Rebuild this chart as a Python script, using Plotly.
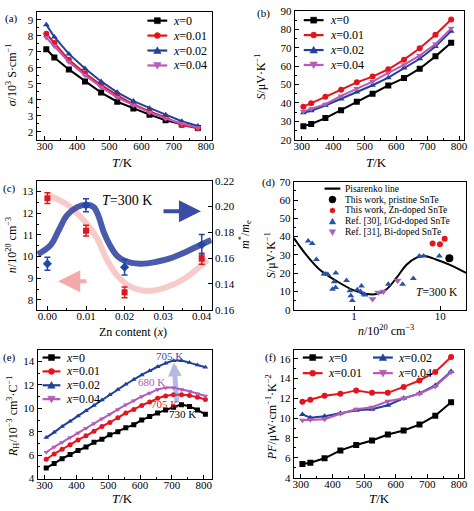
import plotly.graph_objects as go

W, H = 474, 511
FONT = "Liberation Serif"

BLACK = "#000000"
RED = "#e5141c"
BLUE = "#20409a"
PURPLE = "#b55bb8"

# ---------------- data ----------------
# (a) electrical conductivity, (b) Seebeck, (f) power factor
T_ab = [305, 330, 375, 425, 475, 525, 575, 625, 675, 725, 775]
sigma_x000 = [7.16, 6.65, 5.90, 5.15, 4.45, 3.88, 3.45, 3.07, 2.72, 2.46, 2.24]
sigma_x001 = [8.13, 7.56, 6.50, 5.66, 4.93, 4.28, 3.72, 3.27, 2.90, 2.42, 2.22]
sigma_x002 = [8.70, 7.93, 6.87, 5.96, 5.15, 4.47, 3.92, 3.47, 3.07, 2.66, 2.36]
sigma_x004 = [7.89, 7.36, 6.37, 5.54, 4.79, 4.14, 3.66, 3.21, 2.83, 2.52, 2.26]

S_x000 = [27.4, 28.6, 31.8, 36.0, 40.6, 45.0, 49.5, 53.5, 58.6, 65.3, 72.7]
S_x001 = [38.0, 39.8, 43.3, 47.2, 51.2, 54.3, 58.3, 63.5, 69.7, 77.0, 85.3]
S_x002 = [34.7, 35.8, 38.6, 42.2, 46.0, 49.6, 53.7, 59.0, 64.0, 70.6, 79.0]
S_x004 = [35.4, 36.8, 39.3, 43.8, 47.8, 51.6, 56.3, 60.7, 65.8, 72.0, 80.5]

PF_x000 = [5.37, 5.50, 5.95, 6.75, 7.30, 7.75, 8.35, 8.75, 9.35, 10.25, 11.60]
PF_x001 = [11.65, 11.85, 12.25, 12.45, 12.80, 12.55, 12.55, 13.15, 13.80, 14.65, 16.16]
PF_x002 = [10.38, 10.05, 10.20, 10.50, 10.80, 10.90, 11.30, 12.00, 12.50, 13.30, 14.70]
PF_x004 = [9.79, 9.85, 9.90, 10.45, 10.90, 11.10, 11.70, 12.00, 12.45, 13.20, 14.63]

# (c) carrier concentration and effective mass vs Zn content
zn_x = [0.00, 0.01, 0.02, 0.04]
n_c = [12.7, 11.2, 8.35, 9.9]
n_err = [0.25, 0.25, 0.25, 0.25]
m_c = [0.1557, 0.201, 0.153, 0.1704]
m_err = [0.005, 0.005, 0.006, 0.008]
n_fit_x = [0.0, 0.0051, 0.0093, 0.0127, 0.0153, 0.0179, 0.0213, 0.0255, 0.0306, 0.0357, 0.0400, 0.0415]
n_fit_y = [12.85, 12.4, 11.7, 10.9, 9.9, 9.17, 8.64, 8.42, 8.57, 9.0, 9.62, 9.85]
m_fit_x = [-0.0025, 0.0008, 0.0030, 0.0050, 0.0077, 0.0102, 0.0120, 0.0132, 0.0145, 0.0162,
           0.0180, 0.0200, 0.0240, 0.0280, 0.0320, 0.0360, 0.0395, 0.0425]
m_fit_y = [0.163, 0.170, 0.182, 0.193, 0.1996, 0.2014, 0.1996, 0.193, 0.181, 0.170,
           0.162, 0.158, 0.1557, 0.157, 0.160, 0.165, 0.170, 0.174]
m_ticks = [0.12, 0.14, 0.16, 0.18, 0.20, 0.22]
m_ticktext = ["0.16", "0.14", "0.16", "0.18", "0.20", "0.22"]

# (d) Pisarenko plot
n_pis = [0.2, 0.28, 0.4, 0.626, 0.98, 1.4, 1.83, 2.39, 3.12, 4.07, 5.33, 6.66, 9.1, 14.2, 20.0]
S_pis = [39.2, 29.9, 21.9, 15.7, 10.7, 8.55, 8.55, 11.2, 17.5, 24.6, 28.5, 29.4, 27.3, 23.7, 20.1]
n_pristine = [12.8]
S_pristine = [28.1]
n_zn = [8.18, 9.95, 11.3]
S_zn = [36.2, 35.8, 38.8]
n_ref30 = [0.293, 0.327, 0.366, 0.446, 0.47, 0.496, 0.614, 0.588, 0.562, 0.61, 0.818, 0.893, 0.918,
           0.953, 1.09, 1.22, 1.19, 1.30, 1.34, 2.5, 3.66, 4.88, 5.73, 6.43, 9.78]
S_ref30 = [37.6, 36.2, 27.4, 19.6, 19.6, 19.2, 20.1, 15.3, 11.2, 12.1, 16.0, 10.3, 7.6,
           5.0, 10.9, 13.0, 10.0, 8.6, 8.0, 13.9, 13.9, 17.1, 29.4, 29.4, 29.4]
n_ref31 = [1.64, 1.91, 2.19, 3.2]
S_ref31 = [5.9, 9.4, 10.0, 16.0]

# (e) Hall coefficient
T_e = [305, 330, 355, 380, 405, 430, 455, 480, 505, 530, 555, 580, 605, 630, 655, 680, 705, 730, 755, 780, 805]
RH_x000 = [4.9, 5.3, 5.7, 6.05, 6.4, 6.7, 7.1, 7.35, 7.75, 8.0, 8.35, 8.6, 9.0, 9.3, 9.6, 9.85, 10.1, 10.3, 10.15, 9.85, 9.5]
RH_x001 = [5.65, 6.1, 6.5, 6.9, 7.3, 7.65, 8.05, 8.45, 8.8, 9.2, 9.6, 9.9, 10.25, 10.55, 10.85, 11.05, 11.15, 11.15, 11.1, 10.95, 10.75]
RH_x002 = [7.5, 7.95, 8.45, 8.9, 9.35, 9.8, 10.25, 10.7, 11.15, 11.6, 12.05, 12.45, 12.85, 13.2, 13.55, 13.85, 14.05, 14.05, 13.9, 13.7, 13.5]
RH_x004 = [6.25, 6.7, 7.1, 7.5, 7.9, 8.3, 8.7, 9.1, 9.5, 9.9, 10.3, 10.65, 11.0, 11.3, 11.6, 11.75, 11.75, 11.6, 11.45, 11.25, 11.05]

series_labels = ["<i>x</i>=0", "<i>x</i>=0.01", "<i>x</i>=0.02", "<i>x</i>=0.04"]
series_colors = [BLACK, RED, BLUE, PURPLE]
series_symbols = ["square", "circle", "triangle-up", "triangle-down"]

# ---------------- helpers ----------------
def dom_x(l, r):
    return [l / W, r / W]

def dom_y(t, b):
    return [1 - b / H, 1 - t / H]

def px(x):
    return x / W

def py(y):
    return 1 - y / H

def axis(domain, anchor, rng, dtick=None, minor=None, **kw):
    d = dict(domain=domain, anchor=anchor, range=rng, showline=True, linecolor="black",
             linewidth=1.2, mirror=True, ticks="inside", ticklen=4, tickwidth=1,
             tickcolor="black", showgrid=False, zeroline=False,
             tickfont=dict(family=FONT, size=11, color="black"))
    if dtick is not None:
        d["dtick"] = dtick
    if minor is not None:
        d["minor"] = dict(ticks="inside", ticklen=2, tickcolor="black", dtick=minor, showgrid=False)
    d.update(kw)
    return d

fig = go.Figure()
shapes = []
annotations = []

def text(xp, yp, s, size=12, angle=0, color="black", xanchor="center", yanchor="middle"):
    annotations.append(dict(x=px(xp), y=py(yp), xref="paper", yref="paper", text=s,
                            showarrow=False, textangle=angle, xanchor=xanchor, yanchor=yanchor,
                            font=dict(family=FONT, size=size, color=color)))

def marker_shape(cx, cy, symbol, color, s):
    base = dict(xref="paper", yref="paper", xsizemode="pixel", ysizemode="pixel",
                xanchor=px(cx), yanchor=py(cy), fillcolor=color,
                line=dict(color=color, width=0.5), layer="above")
    if symbol == "square":
        base.update(type="rect", x0=-s, x1=s, y0=-s, y1=s)
    elif symbol == "circle":
        base.update(type="circle", x0=-s, x1=s, y0=-s, y1=s)
    elif symbol == "triangle-up":
        a = s * 1.25
        base.update(type="path", path=f"M{-a},{-s} L{a},{-s} L0,{a} Z")
    else:
        a = s * 1.25
        base.update(type="path", path=f"M{-a},{s} L{a},{s} L0,{-a} Z")
    shapes.append(base)

def legend_entry(x0, x1, xt, yy, label, color, symbol, line=True, size=12, ms=3):
    if line:
        shapes.append(dict(type="line", xref="paper", yref="paper", x0=px(x0), x1=px(x1),
                           y0=py(yy), y1=py(yy), line=dict(color=color, width=2.2), layer="above"))
    if symbol:
        marker_shape((x0 + x1) / 2, yy, symbol, color, ms)
    text(xt, yy, label, size=size, xanchor="left")

# ---------------- (a) ----------------
for vals, lab, col, sym in zip([sigma_x000, sigma_x001, sigma_x002, sigma_x004],
                               series_labels, series_colors, series_symbols):
    fig.add_trace(go.Scatter(x=T_ab, y=vals, mode="lines+markers", name=lab,
                             line=dict(color=col, width=2), marker=dict(symbol=sym, size=6, color=col),
                             xaxis="x", yaxis="y", showlegend=False))
for i in range(4):
    legend_entry(148, 168, 172, 15 + i * 15.3, series_labels[i], series_colors[i], series_symbols[i])

# ---------------- (b) ----------------
for vals, lab, col, sym in zip([S_x000, S_x001, S_x002, S_x004],
                               series_labels, series_colors, series_symbols):
    fig.add_trace(go.Scatter(x=T_ab, y=vals, mode="lines+markers", name=lab,
                             line=dict(color=col, width=2), marker=dict(symbol=sym, size=6, color=col),
                             xaxis="x2", yaxis="y2", showlegend=False))
for i in range(4):
    legend_entry(306, 326, 330, 14.5 + i * 15.3, series_labels[i], series_colors[i], series_symbols[i])

# ---------------- (c) ----------------
fig.add_trace(go.Scatter(x=n_fit_x, y=n_fit_y, mode="lines", line=dict(color="rgba(243,160,160,0.55)", width=6, shape="spline"),
                         xaxis="x3", yaxis="y3", showlegend=False, hoverinfo="skip"))
fig.add_trace(go.Scatter(x=m_fit_x, y=m_fit_y, mode="lines", line=dict(color="rgba(48,68,158,0.88)", width=6, shape="spline"),
                         xaxis="x3", yaxis="y7", showlegend=False, hoverinfo="skip"))
fig.add_trace(go.Scatter(x=zn_x, y=n_c, mode="markers", marker=dict(symbol="square", size=6, color=RED),
                         error_y=dict(type="data", array=n_err, color=RED, thickness=1.5, width=3),
                         xaxis="x3", yaxis="y3", showlegend=False))
fig.add_trace(go.Scatter(x=zn_x, y=m_c, mode="markers", marker=dict(symbol="diamond", size=7, color="#1f48a8"),
                         error_y=dict(type="data", array=m_err, color="#1f48a8", thickness=1.5, width=3),
                         xaxis="x3", yaxis="y7", showlegend=False))
annotations.append(dict(x=0.0205, y=12.6, xref="x3", yref="y3", text="<i>T</i>=300 K", showarrow=False,
                        font=dict(family=FONT, size=14, color="black")))
annotations.append(dict(x=0.0398, y=0.1963, xref="x3", yref="y7", ax=0.0297, ay=0.1963, axref="x3", ayref="y7",
                        text="", showarrow=True, arrowhead=2, arrowsize=1.1, arrowwidth=4,
                        arrowcolor="rgba(48,68,158,0.95)"))
annotations.append(dict(x=0.0028, y=8.86, xref="x3", yref="y3", ax=0.0105, ay=8.86, axref="x3", ayref="y3",
                        text="", showarrow=True, arrowhead=2, arrowsize=1.1, arrowwidth=4,
                        arrowcolor="rgba(243,150,150,0.8)"))

# ---------------- (d) ----------------
fig.add_trace(go.Scatter(x=n_pis, y=S_pis, mode="lines", line=dict(color=BLACK, width=2, shape="spline", smoothing=1.0),
                         xaxis="x4", yaxis="y4", showlegend=False))
fig.add_trace(go.Scatter(x=n_ref30, y=S_ref30, mode="markers", marker=dict(symbol="triangle-up", size=6, color="#2c50a4"),
                         xaxis="x4", yaxis="y4", showlegend=False))
fig.add_trace(go.Scatter(x=n_ref31, y=S_ref31, mode="markers", marker=dict(symbol="triangle-down", size=7, color="#a565b5"),
                         xaxis="x4", yaxis="y4", showlegend=False))
fig.add_trace(go.Scatter(x=n_zn, y=S_zn, mode="markers", marker=dict(symbol="circle", size=6, color="#e2161c"),
                         xaxis="x4", yaxis="y4", showlegend=False))
fig.add_trace(go.Scatter(x=n_pristine, y=S_pristine, mode="markers", marker=dict(symbol="circle", size=8, color=BLACK),
                         xaxis="x4", yaxis="y4", showlegend=False))
annotations.append(dict(x=0.965, y=9.6, xref="x4 domain", yref="y4", text="<i>T</i>=300 K", showarrow=False,
                        xanchor="right", font=dict(family=FONT, size=11.5, color="black")))
d_entries = [("Pisarenko line", BLACK, None, True, 3),
             ("This work, pristine SnTe", BLACK, "circle", False, 3.5),
             ("This work, Zn-doped SnTe", "#e2161c", "circle", False, 2.5),
             ("Ref. [30], I/Gd-doped SnTe", "#2c50a4", "triangle-up", False, 2.6),
             ("Ref. [31], Bi-doped SnTe", "#a565b5", "triangle-down", False, 2.6)]
for i, (lab, col, sym, ln, ms) in enumerate(d_entries):
    legend_entry(327, 343, 346, 187 + i * 11.2, lab, col, sym, line=ln, size=9.5, ms=ms)

# ---------------- (e) ----------------
for vals, lab, col, sym in zip([RH_x000, RH_x001, RH_x002, RH_x004],
                               series_labels, series_colors, series_symbols):
    fig.add_trace(go.Scatter(x=T_e, y=vals, mode="lines+markers", name=lab,
                             line=dict(color=col, width=2, shape="spline", smoothing=0.8),
                             marker=dict(symbol=sym, size=5, color=col),
                             xaxis="x5", yaxis="y5", showlegend=False))
for i in range(4):
    legend_entry(42, 60, 64, 360 + i * 14.2, series_labels[i], series_colors[i], series_symbols[i])
annotations.append(dict(x=706, y=13.9, xref="x5", yref="y5", ax=716, ay=10.35, axref="x5", ayref="y5",
                        text="", showarrow=True, arrowhead=2, arrowsize=0.55, arrowwidth=5,
                        arrowcolor="rgba(110,120,205,0.5)"))
for (tx, ty, s, col) in [(691, 14.5, "705 K", "#3050a8"), (635, 12.25, "680 K", "#b05ab5"),
                         (676, 10.4, "705 K", "#e5141c"), (733, 9.55, "730 K", BLACK)]:
    annotations.append(dict(x=tx, y=ty, xref="x5", yref="y5", text=s, showarrow=False,
                            font=dict(family=FONT, size=11, color=col)))

# ---------------- (f) ----------------
for vals, lab, col, sym in zip([PF_x000, PF_x001, PF_x002, PF_x004],
                               series_labels, series_colors, series_symbols):
    fig.add_trace(go.Scatter(x=T_ab, y=vals, mode="lines+markers", name=lab,
                             line=dict(color=col, width=2), marker=dict(symbol=sym, size=6, color=col),
                             xaxis="x6", yaxis="y6", showlegend=False))
f_pos = [(305, 325, 328, 360), (305, 325, 328, 376), (376, 396, 399, 360), (376, 396, 399, 376)]
for i in range(4):
    a0, a1, at, ay_ = f_pos[i]
    legend_entry(a0, a1, at, ay_, series_labels[i], series_colors[i], series_symbols[i])

# ---------------- axes ----------------
XS = dict(ticklabelstandoff=-4)
lay = dict(
    xaxis=axis(dom_x(36, 213), "y", [275, 818], dtick=100, minor=50, **XS),
    yaxis=axis(dom_y(6, 137), "x", [1.5, 9.5], dtick=1, minor=0.5),
    xaxis2=axis(dom_x(297, 468), "y2", [278, 816], dtick=100, minor=50, **XS),
    yaxis2=axis(dom_y(5, 137), "x2", [20, 90], dtick=10, minor=5),
    xaxis3=axis(dom_x(36, 213), "y3", [-0.0028, 0.0426], dtick=0.01, minor=0.005, tickformat=".2f", **XS),
    yaxis3=axis(dom_y(179, 311), "x3", [7.55, 13.5], dtick=1, minor=0.5),
    xaxis4=axis(dom_x(296, 470), "y4", [-0.699, 1.301], type="log", tickvals=[1, 10], ticktext=["1", "10"], **XS),
    yaxis4=axis(dom_y(180, 311), "x4", [0, 70], dtick=10, minor=5),
    xaxis5=axis(dom_x(37, 213), "y5", [278, 825], dtick=100, minor=50, **XS),
    yaxis5=axis(dom_y(352, 484), "x5", [4, 15], dtick=2, minor=1),
    xaxis6=axis(dom_x(296, 468), "y6", [278, 816], dtick=100, minor=50, **XS),
    yaxis6=axis(dom_y(352, 483), "x6", [4, 16.9], dtick=2, minor=1),
    yaxis7=axis(dom_y(179, 311), "x3", [0.12, 0.22], tickvals=m_ticks, ticktext=m_ticktext,
                overlaying="y3", side="right", ticks="inside", ticklen=4, mirror=False),
)

# axis titles
text(123, 160, "<i>T</i>/K", size=13)
text(380, 160, "<i>T</i>/K", size=13)
text(133, 334, "Zn content (<i>x</i>)", size=12)
text(389, 332, "<i>n</i>/10<sup>20</sup> cm<sup>−3</sup>", size=12)
text(123, 504, "<i>T</i>/K", size=13)
text(383, 504, "<i>T</i>/K", size=13)
text(10, 70, "<i>σ</i>/10<sup>3</sup> S·cm<sup>−1</sup>", size=12, angle=-90)
text(262, 72, "<i>S</i>/μV·K<sup>−1</sup>", size=12, angle=-90)
text(10, 245, "<i>n</i>/10<sup>20</sup> cm<sup>−3</sup>", size=12, angle=-90)
text(247, 234, "<i>m</i><sup>*</sup>/<i>m</i><sub>e</sub>", size=12, angle=-90)
text(272, 255, "<i>S</i>/μV·K<sup>−1</sup>", size=12, angle=-90)
text(12, 420, "<i>R</i><sub>H</sub>/10<sup>−3</sup> cm<sup>3</sup>·C<sup>−1</sup>", size=12, angle=-90)
text(273, 421, "<i>PF</i>/μW·cm<sup>−1</sup>·K<sup>−2</sup>", size=12, angle=-90)

# panel labels
for (lx, ly, s) in [(11, 13, "(a)"), (265, 8, "(b)"), (9, 187, "(c)"),
                    (270, 181, "(d)"), (9, 360, "(e)"), (272, 360, "(f)")]:
    text(lx, ly, s, size=11)

fig.update_layout(
    width=W, height=H, autosize=False,
    margin=dict(l=0, r=0, t=0, b=0),
    paper_bgcolor="white", plot_bgcolor="white",
    font=dict(family=FONT, size=11, color="black"),
    showlegend=False,
    shapes=shapes, annotations=annotations,
    **lay,
)

fig.write_html("out.html", config={"displayModeBar": False},
               post_script="document.body.style.margin='0';document.body.style.overflow='hidden';")
